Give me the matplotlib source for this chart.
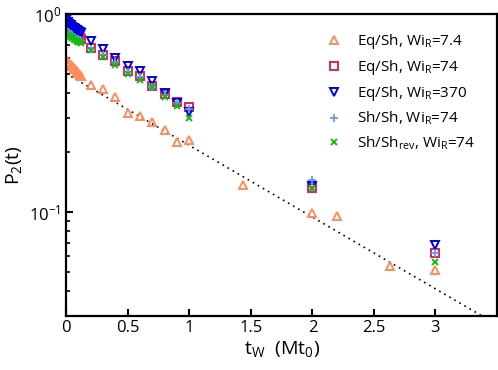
import matplotlib
matplotlib.use("Agg")
import matplotlib.pyplot as plt

plt.rcParams['font.family'] = ['Open Sans', 'DejaVu Sans']
plt.rcParams['mathtext.fontset'] = 'custom'
plt.rcParams['mathtext.rm'] = 'Open Sans'
plt.rcParams['mathtext.it'] = 'Open Sans'

# early dense samples (t < 0.12) and the sparse later ones
t_early = [0.0, 0.012, 0.024, 0.036, 0.048, 0.06, 0.072, 0.084, 0.096, 0.108, 0.12]
t_mid = [0.2, 0.3, 0.4, 0.5, 0.6, 0.7, 0.8, 0.9, 1.0]

# Eq/Sh, Wi_R = 7.4
t_74low = t_early + t_mid + [1.44, 2.0, 2.2, 2.63, 3.0]
p_74low = [0.59, 0.575, 0.565, 0.556, 0.545, 0.535, 0.526, 0.515, 0.505, 0.495, 0.485,
           0.44, 0.42, 0.38, 0.318, 0.306, 0.284, 0.26, 0.225, 0.23,
           0.137, 0.0995, 0.096, 0.0536, 0.0512]

t_sparse = t_early + t_mid + [2.0, 3.0]
# Eq/Sh, Wi_R = 74
p_eq74 = [0.86, 0.845, 0.83, 0.82, 0.81, 0.80, 0.79, 0.78, 0.77, 0.76, 0.75,
          0.671, 0.621, 0.582, 0.516, 0.487, 0.433, 0.393, 0.361, 0.339,
          0.133, 0.0621]
# Eq/Sh, Wi_R = 370
p_eq370 = [0.93, 0.91, 0.895, 0.88, 0.865, 0.85, 0.84, 0.83, 0.82, 0.81, 0.80,
           0.733, 0.664, 0.598, 0.549, 0.516, 0.459, 0.398, 0.355, 0.322,
           0.135, 0.0679]
# Sh/Sh, Wi_R = 74
p_sh74 = [0.83, 0.815, 0.80, 0.79, 0.78, 0.77, 0.76, 0.75, 0.745, 0.74, 0.735,
          0.668, 0.618, 0.575, 0.51, 0.48, 0.43, 0.39, 0.355, 0.33,
          0.1455, 0.062]
# Sh/Sh_rev, Wi_R = 74
p_shrev = [0.80, 0.785, 0.775, 0.765, 0.755, 0.745, 0.74, 0.73, 0.725, 0.72, 0.715,
           0.66, 0.61, 0.553, 0.498, 0.465, 0.427, 0.383, 0.344, 0.298,
           0.132, 0.0557]

# exponential fit line, end points
fit_t = [0.0, 3.5]
fit_p = [0.5, 0.027]

fig, ax = plt.subplots(figsize=(4.98, 3.70), dpi=100)
fig.subplots_adjust(left=0.133, right=0.998, top=0.962, bottom=0.147)

ax.plot(fit_t, fit_p, color='black', linestyle=(0, (1, 2.5)), linewidth=1.2)

ms = 6.0
ax.plot(t_74low, p_74low, linestyle='none', marker='^', ms=ms, mfc='none',
        mec='#ff8c5a', mew=1.4, label=r'Eq/Sh, Wi$_\mathregular{R}$=7.4')
ax.plot(t_sparse, p_eq74, linestyle='none', marker='s', ms=ms, mfc='none',
        mec='#e0205a', mew=1.4, label=r'Eq/Sh, Wi$_\mathregular{R}$=74')
ax.plot(t_sparse, p_eq370, linestyle='none', marker='v', ms=ms, mfc='none',
        mec='#0000dd', mew=1.4, label=r'Eq/Sh, Wi$_\mathregular{R}$=370')
ax.plot(t_sparse, p_sh74, linestyle='none', marker='+', ms=ms, mec='#6699ee',
        mew=1.3, label=r'Sh/Sh, Wi$_\mathregular{R}$=74')
ax.plot(t_sparse, p_shrev, linestyle='none', marker='x', ms=ms - 1, mec='#11bb11',
        mew=1.4, label=r'Sh/Sh$_\mathregular{rev}$, Wi$_\mathregular{R}$=74')

ax.set_yscale('log')
ax.set_xlim(0, 3.5)
ax.set_ylim(0.03, 1)
ax.set_xticks([0, 0.5, 1, 1.5, 2, 2.5, 3])
ax.set_xticklabels(['0', '0.5', '1', '1.5', '2', '2.5', '3'])

ax.tick_params(which='both', direction='in', top=False, right=False, labelsize=12)
ax.tick_params(which='major', length=5, width=1.5)
ax.tick_params(which='minor', length=3, width=1.2)
for s in ax.spines.values():
    s.set_linewidth(1.6)

ax.set_xlabel(r'$\mathregular{t_W}$  (Mt$_\mathregular{0}$)', fontsize=14, labelpad=2)
ax.set_ylabel(r'P$_\mathregular{2}$(t)', fontsize=14, labelpad=4)

ax.legend(loc='upper right', frameon=False, fontsize=11, handlelength=1.0,
          handletextpad=1.0, labelspacing=0.45, borderaxespad=0.6,
          bbox_to_anchor=(0.985, 0.99))

fig.savefig('out.png', dpi=100)
